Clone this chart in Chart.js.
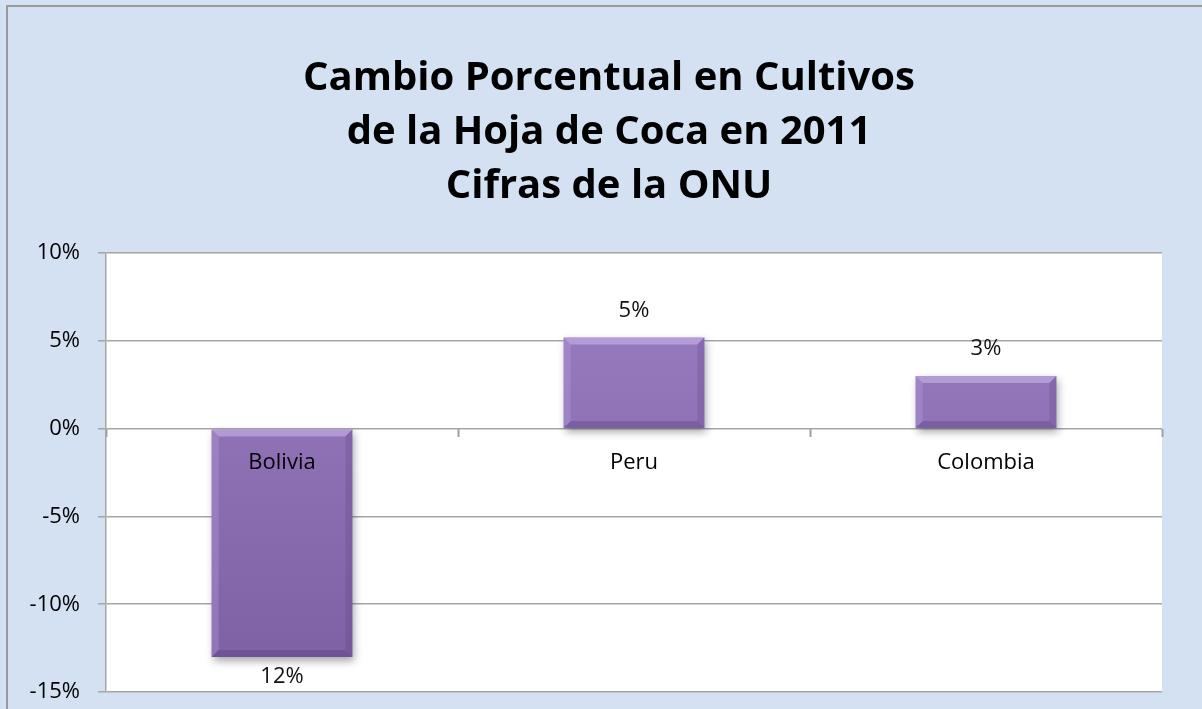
<!DOCTYPE html>
<html>
<head>
<meta charset="utf-8">
<script src="https://cdn.jsdelivr.net/npm/chart.js@4.4.1/dist/chart.umd.min.js"></script>
<style>
  html, body { margin: 0; padding: 0; background: #D3E1F2; overflow: hidden; }
  #wrap { position: relative; width: 1202px; height: 709px; overflow: hidden; }
  #chart { position: absolute; left: 0; top: 0; }
  #frame {
    position: absolute; left: 6px; top: 5px; width: 1300px; height: 800px;
    border-left: 2px solid #9a9a9a; border-top: 2px solid #9a9a9a; pointer-events: none;
  }
</style>
</head>
<body>
<div id="wrap">
  <canvas id="chart" width="1218" height="709"></canvas>
  <div id="frame"></div>
</div>
<script>
/* ── data ─────────────────────────────── */
const titleLines = ['Cambio Porcentual en Cultivos', 'de la Hoja de Coca en 2011', 'Cifras de la ONU'];
const countries = ['Bolivia', 'Peru', 'Colombia'];
const changeValues = [-13, 5.2, 3.0];
const valueLabels = ['12%', '5%', '3%'];
const yTicks = [10, 5, 0, -5, -10, -15];

const FONT = "'Open Sans', Calibri, sans-serif";

// bevelled purple bars
const bevelPlugin = {
  id: 'bevel',
  afterDatasetsDraw(chart) {
    const ctx = chart.ctx;
    chart.getDatasetMeta(0).data.forEach(bar => {
      const { x, y, base, width } = bar.getProps(['x', 'y', 'base', 'width'], true);
      const l = x - width / 2, r = x + width / 2;
      const t = Math.min(y, base), b = Math.max(y, base);
      const e = 7;
      ctx.save();
      ctx.fillStyle = 'rgba(206,188,236,0.55)';
      ctx.beginPath(); ctx.moveTo(l, t); ctx.lineTo(r, t); ctx.lineTo(r - e, t + e); ctx.lineTo(l + e, t + e); ctx.closePath(); ctx.fill();
      ctx.fillStyle = 'rgba(190,168,225,0.3)';
      ctx.beginPath(); ctx.moveTo(l, t); ctx.lineTo(l + e, t + e); ctx.lineTo(l + e, b - e); ctx.lineTo(l, b); ctx.closePath(); ctx.fill();
      ctx.fillStyle = 'rgba(90,60,130,0.25)';
      ctx.beginPath(); ctx.moveTo(r, t); ctx.lineTo(r - e, t + e); ctx.lineTo(r - e, b - e); ctx.lineTo(r, b); ctx.closePath(); ctx.fill();
      ctx.fillStyle = 'rgba(80,50,120,0.3)';
      ctx.beginPath(); ctx.moveTo(l, b); ctx.lineTo(r, b); ctx.lineTo(r - e, b - e); ctx.lineTo(l + e, b - e); ctx.closePath(); ctx.fill();
      ctx.restore();
    });
  }
};

// value labels above / below bars
const valueLabelPlugin = {
  id: 'valueLabels',
  afterDraw(chart) {
    const ctx = chart.ctx;
    ctx.save();
    ctx.font = '22px ' + FONT;
    ctx.fillStyle = '#111';
    ctx.textAlign = 'center';
    ctx.textBaseline = 'middle';
    chart.getDatasetMeta(0).data.forEach((bar, i) => {
      const v = changeValues[i];
      const yy = v >= 0 ? bar.y - 27 : bar.y + 20;
      ctx.fillText(valueLabels[i], bar.x, yy);
    });
    ctx.restore();
  }
};

// bar shadow
const shadowPlugin = {
  id: 'barShadow',
  beforeDatasetsDraw(chart) {
    const ctx = chart.ctx;
    ctx.save();
    ctx.shadowColor = 'rgba(0,0,0,0.35)';
    ctx.shadowBlur = 8;
    ctx.shadowOffsetX = 2;
    ctx.shadowOffsetY = 4;
  },
  afterDatasetsDraw(chart) {
    chart.ctx.restore();
  }
};

const plotBg = {
  id: 'plotBg',
  beforeDraw(chart) {
    const { ctx, chartArea: a } = chart;
    ctx.save();
    ctx.fillStyle = '#fff';
    ctx.fillRect(a.left, a.top, a.right - a.left, a.bottom - a.top);
    ctx.restore();
  }
};

function barGradient(c) {
  const a = c.chart.chartArea;
  if (!a) return '#8E72B5';
  const g = c.chart.ctx.createLinearGradient(0, a.top, 0, a.bottom);
  g.addColorStop(0, '#9C80C4');
  g.addColorStop(1, '#7C5EA2');
  return g;
}

function noPad(s) {
  s.paddingTop = 0;
  s.paddingBottom = 0;
}

new Chart(document.getElementById('chart'), {
  type: 'bar',
  data: {
    labels: countries,
    datasets: [{
      data: changeValues,
      backgroundColor: barGradient,
      borderWidth: 0,
      barPercentage: 0.4,
      categoryPercentage: 1
    }]
  },
  options: {
    responsive: false,
    animation: false,
    layout: { padding: { left: 0, right: 0, bottom: 17, top: 0 } },
    plugins: {
      legend: { display: false },
      tooltip: { enabled: false },
      title: {
        display: true,
        text: titleLines,
        color: '#000',
        font: { family: FONT, size: 40, weight: 'bold', lineHeight: 1.36 },
        padding: { top: 51, bottom: 39 }
      }
    },
    scales: {
      x: {
        position: { y: 0 },
        afterFit: noPad,
        grid: {
          display: true, drawOnChartArea: false, drawTicks: true,
          tickLength: 8, tickWidth: 2, tickColor: '#a0a0a0', offset: true
        },
        border: { display: false },
        ticks: { z: 1, color: '#000', font: { family: FONT, size: 22 }, padding: 13 }
      },
      y: {
        min: -15, max: 10,
        afterFit(s) { s.width = 106; noPad(s); },
        afterBuildTicks(s) { s.ticks = yTicks.map(v => ({ value: v })); },
        grid: { color: '#a6a6a6', lineWidth: 1.5, tickLength: 8, tickColor: '#a6a6a6' },
        border: { color: '#a6a6a6', width: 1.5 },
        ticks: {
          color: '#000', font: { family: FONT, size: 22 }, padding: 18,
          callback: v => v + '%'
        }
      },
      // empty right-hand strip so the title centres over the whole card
      yRight: {
        position: 'right',
        afterFit(s) { s.width = 56; noPad(s); },
        grid: { display: false },
        border: { display: false },
        ticks: { display: false }
      }
    }
  },
  plugins: [plotBg, shadowPlugin, bevelPlugin, valueLabelPlugin]
});
</script>
</body>
</html>
